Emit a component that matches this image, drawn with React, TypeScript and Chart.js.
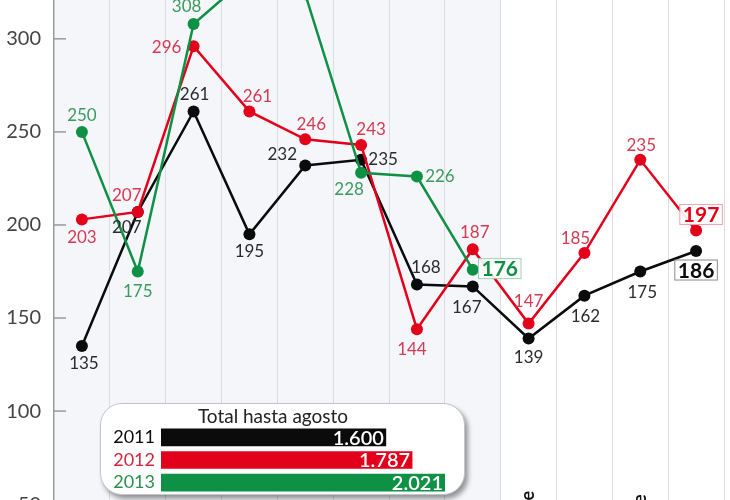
import { useEffect, useRef } from "react"
import { Chart, registerables } from "chart.js"

Chart.register(...registerables)

const months = [
  "Enero", "Febrero", "Marzo", "Abril", "Mayo", "Junio",
  "Julio", "Agosto", "Septiembre", "Octubre", "Noviembre", "Diciembre",
]
const values2011 = [135, 207, 261, 195, 232, 235, 168, 167, 139, 162, 175, 186]
const values2012 = [203, 207, 296, 261, 246, 243, 144, 187, 147, 185, 235, 197]
const values2013 = [250, 175, 308, 334, 324, 228, 226, 176]
const yTicks = [50, 100, 150, 200, 250, 300]

const totalYears = ["2011", "2012", "2013"]
const totalValues = [1600, 1787, 2021]

// where each value label sits relative to its point (dx, dy)
const offsets2011 = [[2, 18], [-11, 16], [1, -17], [0, 17], [-23, -11], [22, 0], [9, -17], [-6, 21], [0, 19], [1, 21], [2, 21], [0, 19]]
const offsets2012 = [[0, 18], [-11, -16], [-27, 1], [8, -15], [6, -15], [10, -15], [-5, 20], [2, -17], [0, -22], [-9, -14], [1, -14], [5, -16]]
const offsets2013 = [[0, -16], [0, 20], [-7, -17], [0, -17], [0, -17], [-12, 17], [23, 0], [27, -1]]

const BLACK = "#0b0b0b"
const RED = "#e3001b"
const GREEN = "#0f9145"
const FONT = "Lato, 'Open Sans', sans-serif"

const fmt = (v: number) => v.toString().replace(/\B(?=(\d{3})+(?!\d))/g, ".")

const backdrop = {
  id: "backdrop",
  beforeDraw(chart: any) {
    const { ctx, chartArea } = chart
    const x = chart.scales.x
    const edge = (x.getPixelForValue(7) + x.getPixelForValue(8)) / 2
    ctx.save()
    ctx.fillStyle = "#f4f6fa"
    ctx.fillRect(chartArea.left, 0, edge - chartArea.left, chart.height)
    ctx.restore()
  },
  beforeDatasetsDraw(chart: any) {
    const { ctx, chartArea } = chart
    const y = chart.scales.y
    ctx.save()
    ctx.strokeStyle = "#9a9a9a"
    ctx.lineWidth = 1.5
    yTicks.forEach((v) => {
      const py = y.getPixelForValue(v)
      ctx.beginPath()
      ctx.moveTo(chartArea.left, py)
      ctx.lineTo(chartArea.left + 12, py)
      ctx.stroke()
    })
    ctx.restore()
  },
}

const pointLabels = {
  id: "pointLabels",
  afterDatasetsDraw(chart: any) {
    const { ctx } = chart
    ctx.save()
    ctx.textAlign = "center"
    ctx.textBaseline = "middle"
    chart.data.datasets.forEach((ds: any, di: number) => {
      const meta = chart.getDatasetMeta(di)
      const last = ds.data.length - 1
      meta.data.forEach((pt: any, i: number) => {
        const [dx, dy] = ds.labelOffsets[i]
        const text = String(ds.data[i])
        const cx = pt.x + dx
        const cy = pt.y + dy
        if (i === last) {
          ctx.font = `bold 21px ${FONT}`
          const w = ctx.measureText(text).width
          ctx.fillStyle = "rgba(255,255,255,0.9)"
          ctx.fillRect(cx - w / 2 - 3, cy - 10, w + 6, 20)
          ctx.strokeStyle = ds.boxColor
          ctx.lineWidth = 1
          ctx.strokeRect(cx - w / 2 - 3, cy - 10, w + 6, 20)
          ctx.fillStyle = ds.borderColor
          ctx.fillText(text, cx, cy + 1)
        } else {
          ctx.font = `17px ${FONT}`
          ctx.fillStyle = ds.labelColor
          ctx.fillText(text, cx, cy)
        }
      })
    })
    ctx.restore()
  },
  afterDraw(chart: any) {
    const { ctx, chartArea } = chart
    const x = chart.scales.x
    ctx.save()
    ctx.font = `bold 18px ${FONT}`
    ctx.fillStyle = "#111"
    ctx.textAlign = "left"
    ctx.textBaseline = "middle"
    months.forEach((m, i) => {
      ctx.save()
      ctx.translate(x.getPixelForValue(i), chartArea.bottom + 23)
      ctx.rotate(-Math.PI / 2)
      ctx.fillText(m, 0, 0)
      ctx.restore()
    })
    ctx.restore()
  },
}

const barValues = {
  id: "barValues",
  afterDatasetsDraw(chart: any) {
    const { ctx } = chart
    const meta = chart.getDatasetMeta(0)
    ctx.save()
    ctx.font = `600 20px ${FONT}`
    ctx.fillStyle = "#ffffff"
    ctx.textAlign = "right"
    ctx.textBaseline = "middle"
    meta.data.forEach((bar: any, i: number) => {
      ctx.fillText(fmt(totalValues[i]), bar.x - 2, bar.y + 1)
    })
    ctx.restore()
  },
}

function MonthlyChart() {
  const chartRef = useRef<HTMLCanvasElement>(null)
  const chartInstance = useRef<Chart | null>(null)

  useEffect(() => {
    if (!chartRef.current) return
    if (chartInstance.current) chartInstance.current.destroy()
    const ctx = chartRef.current.getContext("2d")
    if (!ctx) return

    const line = (label: string, data: number[], color: string, labelColor: string, boxColor: string, offsets: number[][], order: number) => ({
      label,
      data,
      borderColor: color,
      backgroundColor: color,
      pointBackgroundColor: color,
      pointBorderWidth: 0,
      pointRadius: 6,
      borderWidth: 2.5,
      tension: 0,
      order,
      labelColor,
      boxColor,
      labelOffsets: offsets,
    })

    chartInstance.current = new Chart(ctx, {
      type: "line",
      data: {
        labels: months,
        datasets: [
          line("2011", values2011, BLACK, "#2b2b2b", "#8a8a8a", offsets2011, 3),
          line("2012", values2012, RED, "#d63a52", "#eda3ad", offsets2012, 2),
          line("2013", values2013, GREEN, "#3b9b5f", "#9fd0b0", offsets2013, 1),
        ] as any,
      },
      options: {
        animation: false,
        responsive: true,
        maintainAspectRatio: false,
        layout: { padding: { top: 13, right: 5, bottom: 50, left: 0 } },
        plugins: { legend: { display: false }, tooltip: { enabled: false } },
        scales: {
          x: {
            offset: true,
            ticks: { display: false },
            grid: { offset: true, drawTicks: false, color: "#dcdde2", lineWidth: 1 },
            border: { display: false },
            afterFit: (s: any) => {
              s.height = 0
            },
          },
          y: {
            min: 20,
            max: 330,
            afterBuildTicks: (s: any) => {
              s.ticks = yTicks.map((v) => ({ value: v }))
            },
            afterFit: (s: any) => {
              s.width = 54
              s.paddingTop = 0
              s.paddingBottom = 0
            },
            grid: { drawOnChartArea: false, drawTicks: false },
            border: { color: "#9a9a9a", width: 1.5 },
            ticks: { padding: 13, color: "#444", font: { family: FONT, size: 20 } },
          },
        },
      },
      plugins: [backdrop, pointLabels],
    })

    return () => {
      if (chartInstance.current) chartInstance.current.destroy()
    }
  }, [])

  return (
    <div style={{ position: "absolute", top: -30, left: 0, width: 730, height: 640 }}>
      <canvas ref={chartRef} />
    </div>
  )
}

function TotalsChart() {
  const chartRef = useRef<HTMLCanvasElement>(null)
  const chartInstance = useRef<Chart | null>(null)

  useEffect(() => {
    if (!chartRef.current) return
    if (chartInstance.current) chartInstance.current.destroy()
    const ctx = chartRef.current.getContext("2d")
    if (!ctx) return

    const yearColors = [BLACK, "#d5263e", "#2a8f4c"]

    chartInstance.current = new Chart(ctx, {
      type: "bar",
      data: {
        labels: totalYears,
        datasets: [
          {
            data: totalValues,
            backgroundColor: [BLACK, RED, GREEN],
            barThickness: 17,
          },
        ],
      },
      options: {
        animation: false,
        responsive: true,
        maintainAspectRatio: false,
        indexAxis: "y",
        layout: { padding: { top: 0, right: 6, bottom: 0, left: 0 } },
        plugins: { legend: { display: false }, tooltip: { enabled: false } },
        scales: {
          x: { display: false, min: 0, max: Math.max(...totalValues) },
          y: {
            afterFit: (s: any) => {
              s.width = 61
              s.paddingTop = 0
              s.paddingBottom = 0
            },
            grid: { display: false, drawTicks: false },
            border: { display: false },
            ticks: {
              padding: 6,
              autoSkip: false,
              color: (c: any) => yearColors[c.index],
              font: { family: FONT, size: 18 },
            },
          },
        },
      },
      plugins: [barValues],
    })

    return () => {
      if (chartInstance.current) chartInstance.current.destroy()
    }
  }, [])

  return (
    <div style={{ position: "absolute", left: 100, top: 426, width: 351, height: 68 }}>
      <canvas ref={chartRef} />
    </div>
  )
}

export default function App() {
  return (
    <div style={{ position: "fixed", top: 0, left: 0, width: 730, height: 500, overflow: "hidden", background: "#fff" }}>
      <MonthlyChart />
      <div
        style={{
          position: "absolute",
          left: 100,
          top: 403,
          width: 365,
          height: 92,
          boxSizing: "border-box",
          borderRadius: 22,
          border: "1px solid #c4c4c4",
          background: "#fff",
          boxShadow: "3px 4px 5px rgba(0,0,0,0.4)",
        }}
      />
      <div
        style={{
          position: "absolute",
          left: 161,
          top: 405,
          width: 224,
          textAlign: "center",
          font: `19px/22px ${FONT}`,
          color: "#222",
        }}
      >
        Total hasta agosto
      </div>
      <TotalsChart />
    </div>
  )
}
